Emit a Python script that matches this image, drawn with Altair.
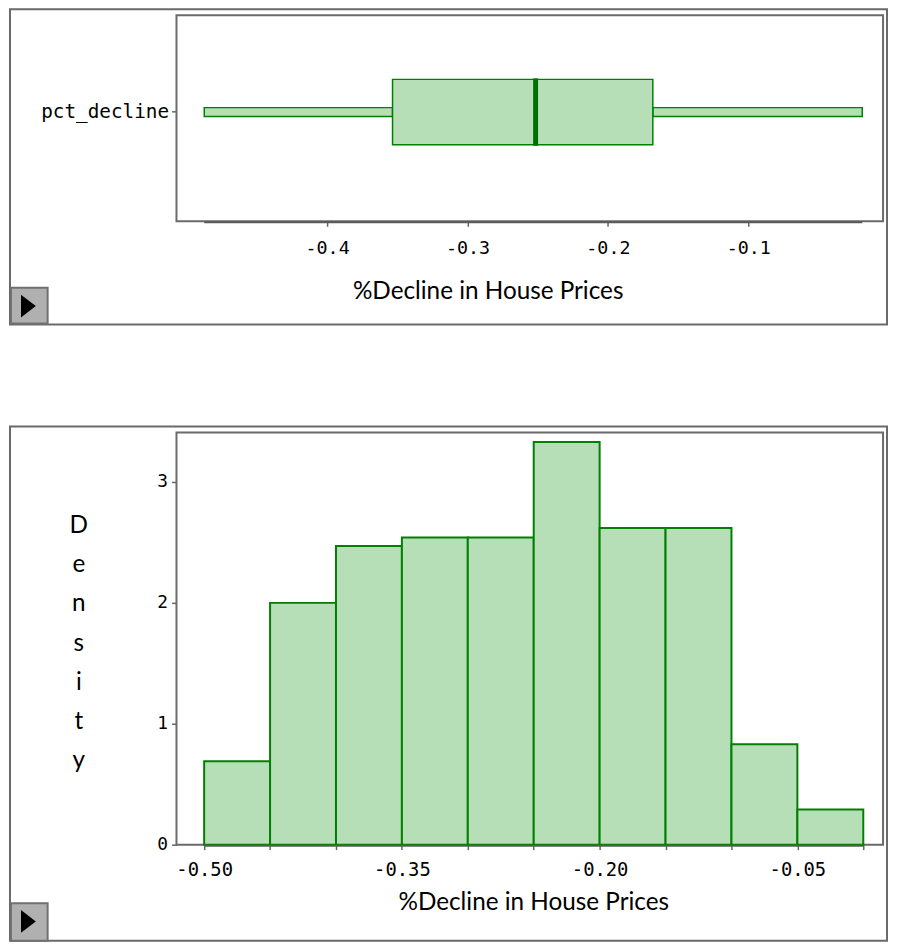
import altair as alt
import pandas as pd

# ---------------- data ----------------
box_label = ["pct_decline"]
box_min = [-0.4875]
box_q1 = [-0.3534]
box_median = [-0.2515]
box_q3 = [-0.1680]
box_max = [-0.0188]

bin_start = [-0.50, -0.45, -0.40, -0.35, -0.30, -0.25, -0.20, -0.15, -0.10, -0.05]
bin_end = [-0.45, -0.40, -0.35, -0.30, -0.25, -0.20, -0.15, -0.10, -0.05, 0.00]
density = [0.69, 2.00, 2.47, 2.54, 2.54, 3.33, 2.62, 2.62, 0.83, 0.29]

top_ticks = [-0.4, -0.3, -0.2, -0.1]
top_tick_labels = ["-0.4", "-0.3", "-0.2", "-0.1"]
hist_ticks = [-0.50, -0.45, -0.40, -0.35, -0.30, -0.25, -0.20, -0.15, -0.10, -0.05, 0.00]
hist_tick_labels = ["-0.50", "", "", "-0.35", "", "", "-0.20", "", "", "-0.05", ""]
density_ticks = [0, 1, 2, 3]
x_title = "%Decline in House Prices"
y_title = "Density"

# ---------------- styling ----------------
W = 713
H1 = 208
H2 = 416
GREEN = "#008000"
FILL = "#b7dfb7"
MED = "#007000"
FRAME = "#6a6a6a"
MONO = "DejaVu Sans Mono"
SANS = "Lato"


def label_expr(vals, labels):
    expr = "''"
    for v, l in reversed(list(zip(vals, labels))):
        expr = f"abs(datum.value - ({v})) < 1e-6 ? '{l}' : ({expr})"
    return expr


def decorations(h_frame_top, h_frame_bottom, btn_top, btn_bottom, tri_y):
    deco = pd.DataFrame({"d": [1]})
    frame = alt.Chart(deco).mark_rect(
        fillOpacity=0, stroke=FRAME, strokeWidth=2
    ).encode(
        x=alt.value(-168), x2=alt.value(W + 4),
        y=alt.value(h_frame_top), y2=alt.value(h_frame_bottom),
    )
    button = alt.Chart(deco).mark_rect(
        fill="#b0b0b0", stroke="#707070", strokeWidth=2
    ).encode(
        x=alt.value(-167), x2=alt.value(-130),
        y=alt.value(btn_top), y2=alt.value(btn_bottom),
    )
    tri = alt.Chart(deco).mark_point(
        shape="M -0.6 -1 L 0.7 0 L -0.6 1 Z", filled=True, fill="black",
        stroke="black", strokeWidth=0, opacity=1, size=529,
    ).encode(x=alt.value(-150), y=alt.value(tri_y))
    return [frame, button, tri]


# ---------------- top: box plot ----------------
box_df = pd.DataFrame({
    "label": box_label, "min": box_min, "q1": box_q1,
    "median": box_median, "q3": box_q3, "max": box_max,
})
whisk_df = pd.DataFrame({
    "label": box_label * 2,
    "start": [box_min[0], box_q3[0]],
    "end": [box_q1[0], box_max[0]],
})

xs_top = alt.Scale(domain=[-0.5073, -0.004], nice=False, zero=False)
ys_top = alt.Scale(type="band", domain=box_label, paddingInner=0,
                   paddingOuter=0.5, align=0.44)

y_top = alt.Y("label:N", scale=ys_top, axis=alt.Axis(
    title=None, domain=False, ticks=True, tickSize=5, labelPadding=3,
    labelFont=MONO, labelFontSize=19.5,
))
x_top_axis = alt.Axis(
    values=top_ticks, labelExpr=label_expr(top_ticks, top_tick_labels),
    domain=False, tickSize=5, labelBaseline="middle", labelPadding=21,
    labelFont=MONO, labelFontSize=18.5, title=x_title,
    titleX=314, titleY=71, titleBaseline="middle", titleAlign="center",
)

whiskers = alt.Chart(whisk_df).mark_bar(
    size=9, fill=FILL, stroke=GREEN, strokeWidth=1.5
).encode(
    x=alt.X("start:Q", scale=xs_top, axis=x_top_axis),
    x2="end:Q",
    y=y_top,
)
box = alt.Chart(box_df).mark_bar(
    size=66, fill=FILL, stroke=GREEN, strokeWidth=1.5
).encode(x=alt.X("q1:Q", scale=xs_top), x2="q3:Q", y=y_top)
median = alt.Chart(box_df).mark_tick(
    thickness=5, size=68, color=MED, opacity=1
).encode(x=alt.X("median:Q", scale=xs_top), y=y_top)
axis_line_top = alt.Chart(box_df).mark_rule(
    color="#5a5a5a", strokeWidth=2
).encode(x=alt.X("min:Q", scale=xs_top), x2="max:Q", y=alt.value(H1 + 1))

top = alt.layer(
    *decorations(-6, 312, 275, 311, 293.5),
    whiskers, box, median, axis_line_top,
).properties(width=W, height=H1)

# ---------------- bottom: histogram ----------------
hist_df = pd.DataFrame({"start": bin_start, "end": bin_end, "density": density})
xs_bot = alt.Scale(domain=[-0.521, 0.015], nice=False, zero=False)
ys_bot = alt.Scale(domain=[0, 3.41], nice=False, zero=True)

bars = alt.Chart(hist_df).mark_rect(
    fill=FILL, stroke=GREEN, strokeWidth=2
).encode(
    x=alt.X("start:Q", scale=xs_bot, axis=alt.Axis(
        values=hist_ticks, labelExpr=label_expr(hist_ticks, hist_tick_labels),
        domain=False, tickSize=5, labelBaseline="middle", labelPadding=20,
        labelFont=MONO, labelFontSize=19, title=x_title,
        titleX=360, titleY=58, titleBaseline="middle", titleAlign="center",
    )),
    x2="end:Q",
    y=alt.Y("density:Q", scale=ys_bot, axis=alt.Axis(
        values=density_ticks, format="d", domain=False, tickSize=5,
        labelPadding=4, labelFont=MONO, labelFontSize=18,
        title=list(y_title), titleAngle=0, titleX=-99, titleY=101,
        titleAlign="center", titleBaseline="alphabetic", titleLineHeight=39.6,
    )),
    y2=alt.datum(0),
)
axis_line_bot = alt.Chart(pd.DataFrame({"a": [bin_start[0]], "b": [bin_end[-1]]})).mark_rule(
    color="#5a5a5a", strokeWidth=2
).encode(x=alt.X("a:Q", scale=xs_bot), x2="b:Q", y=alt.value(H2 + 1))

bottom = alt.layer(
    *decorations(-6, 513, 475, 513, 493.5),
    bars, axis_line_bot,
).properties(width=W, height=H2)

chart = alt.vconcat(top, bottom, spacing=213, bounds="flush").properties(
    padding={"left": 0, "top": -5, "right": 0, "bottom": 0}
).configure_view(
    stroke=FRAME, strokeWidth=2
).configure_axis(
    grid=False, tickColor="#666666", tickWidth=1.5, labelColor="black",
    titleFont=SANS, titleFontSize=24.5, titleFontWeight="normal", titleColor="black",
)

chart.save("out.html", embed_options={"renderer": "svg", "actions": False})
